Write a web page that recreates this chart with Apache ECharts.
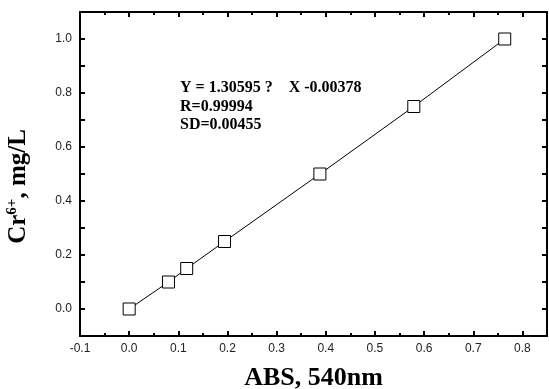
<!DOCTYPE html>
<html>
<head>
<meta charset="utf-8">
<script src="https://cdn.jsdelivr.net/npm/echarts@6/dist/echarts.min.js"></script>
<style>
  html, body { margin: 0; padding: 0; background: #fff; }
  #chart { width: 549px; height: 389px; }
</style>
</head>
<body>
<div id="chart"></div>
<script>
// calibration data: absorbance at 540nm vs Cr6+ concentration
const absValues = [0.0, 0.080, 0.117, 0.194, 0.388, 0.579, 0.764];
const crValues = [0.0, 0.10, 0.15, 0.25, 0.50, 0.75, 1.00];
const fitLines = ['Y = 1.30595 ?    X -0.00378', 'R=0.99994', 'SD=0.00455'];

const chart = echarts.init(document.getElementById('chart'));

const points = absValues.map((x, i) => [x, crValues[i]]);

const axisLine = { onZero: false, lineStyle: { color: '#000', width: 2 } };
const tickStyle = { inside: true, length: 5, lineStyle: { color: '#000', width: 2 } };
const minorStyle = { show: true, splitNumber: 2, length: 3, lineStyle: { color: '#000', width: 2 } };
const labelFont = { fontFamily: 'Liberation Sans', fontSize: 12, color: '#222' };

const option = {
  animation: false,
  grid: { left: 80, right: 2, top: 12, bottom: 53, outerBoundsMode: 'none', containLabel: false },
  xAxis: [
    {
      type: 'value',
      min: -0.1,
      max: 0.85,
      interval: 0.1,
      position: 'bottom',
      axisLine: axisLine,
      axisTick: tickStyle,
      minorTick: minorStyle,
      splitLine: { show: false },
      axisLabel: Object.assign({ margin: 7, showMaxLabel: false,
        formatter: (v) => v.toFixed(1) }, labelFont),
      name: 'ABS, 540nm',
      nameLocation: 'middle',
      nameGap: 29,
      nameMoveOverlap: false,
      nameTextStyle: { fontFamily: 'Liberation Serif', fontWeight: 'bold', fontSize: 26, color: '#000' },
    },
    {
      type: 'value',
      min: -0.1,
      max: 0.85,
      interval: 0.1,
      position: 'top',
      axisLine: axisLine,
      axisTick: tickStyle,
      minorTick: minorStyle,
      splitLine: { show: false },
      axisLabel: { show: false },
    },
  ],
  yAxis: [
    {
      type: 'value',
      min: -0.1,
      max: 1.1,
      interval: 0.1,
      position: 'left',
      axisLine: axisLine,
      axisTick: tickStyle,
      splitLine: { show: false },
      axisLabel: Object.assign({ margin: 8,
        formatter: (v) => {
          const k = Math.round(v * 10);
          return (k >= 0 && k <= 10 && k % 2 === 0) ? v.toFixed(1) : '';
        } }, labelFont),
      name: 'Cr{sup|6+}, mg/L',
      nameLocation: 'middle',
      nameGap: 48,
      nameMoveOverlap: false,
      nameTextStyle: {
        fontFamily: 'Liberation Serif', fontWeight: 'bold', fontSize: 25, color: '#000',
        padding: [0, 25, 0, 0],
        rich: {
          sup: { fontFamily: 'Liberation Serif', fontWeight: 'bold', fontSize: 15, verticalAlign: 'top', padding: [0, 0, 12, 0] },
        },
      },
    },
    {
      type: 'value',
      min: -0.1,
      max: 1.1,
      interval: 0.1,
      position: 'right',
      axisLine: axisLine,
      axisTick: tickStyle,
      splitLine: { show: false },
      axisLabel: { show: false },
    },
  ],
  graphic: fitLines.map((t, i) => ({
    type: 'text',
    left: 180,
    top: 80 + i * 18.5,
    style: { text: t, fontFamily: 'Liberation Serif', fontWeight: 'bold', fontSize: 16, fill: '#000' },
  })),
  series: [
    {
      type: 'line',
      data: points,
      xAxisIndex: 0,
      yAxisIndex: 0,
      symbol: 'rect',
      symbolSize: 12,
      lineStyle: { color: '#000', width: 1 },
      itemStyle: { color: '#fff', borderColor: '#000', borderWidth: 1 },
      z: 3,
    },
  ],
};

chart.setOption(option);
</script>
</body>
</html>
